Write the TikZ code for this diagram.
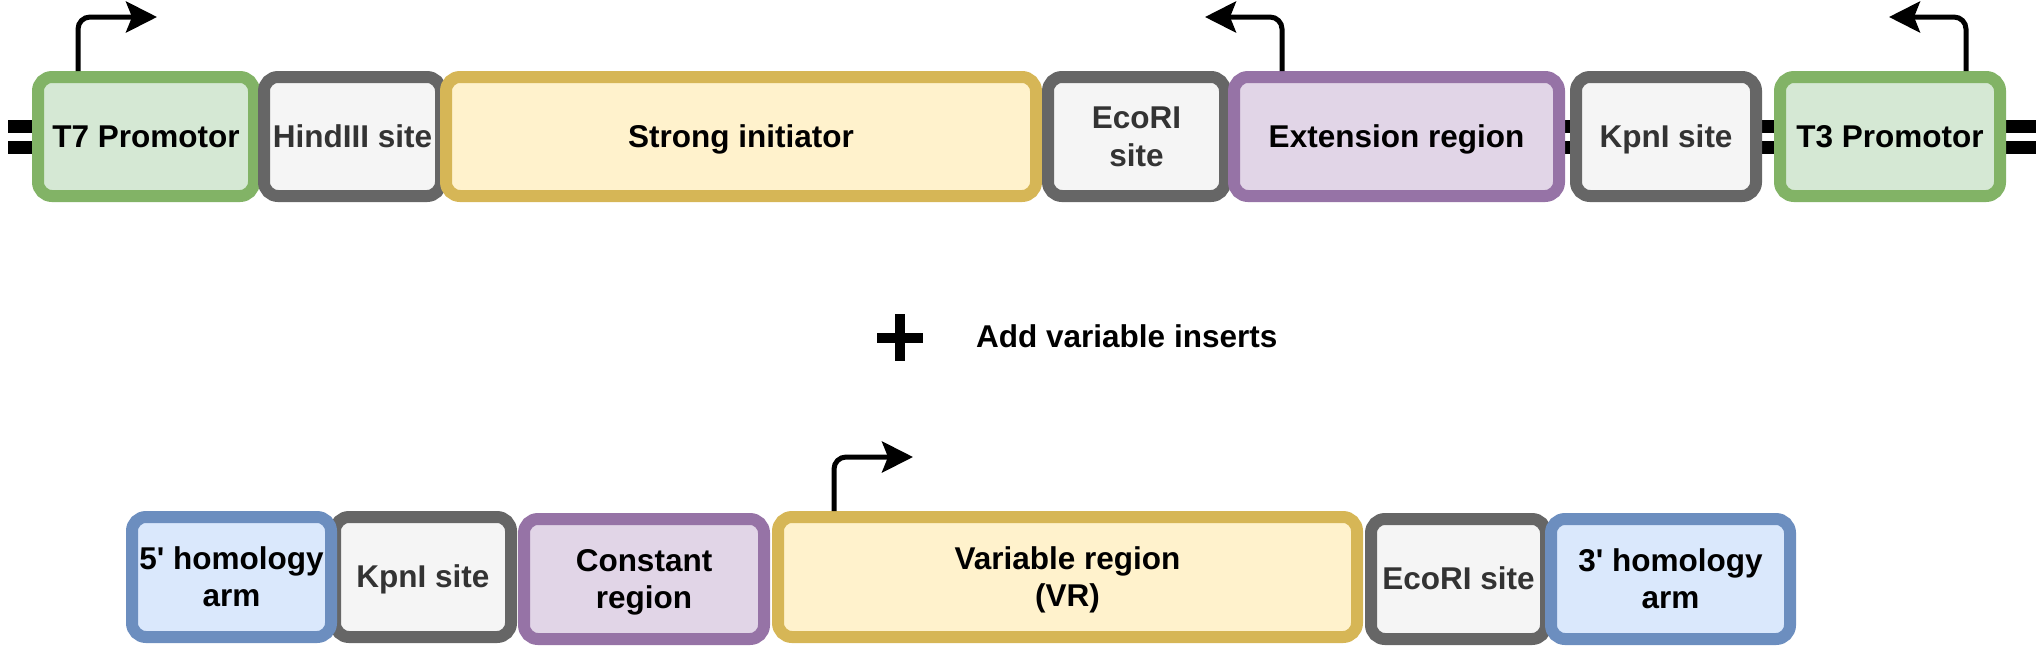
\documentclass[tikz,border=0pt]{standalone}
\usepackage{fontspec}
\setmainfont{Liberation Sans}[Ligatures=TeXOff]
\usetikzlibrary{arrows.meta,calc}
\definecolor{gFill}{HTML}{D5E8D4}
\definecolor{gLine}{HTML}{82B366}
\definecolor{kFill}{HTML}{F5F5F5}
\definecolor{kLine}{HTML}{666666}
\definecolor{kText}{HTML}{333333}
\definecolor{yFill}{HTML}{FFF2CC}
\definecolor{yLine}{HTML}{D6B656}
\definecolor{pFill}{HTML}{E1D5E7}
\definecolor{pLine}{HTML}{9673A6}
\definecolor{bFill}{HTML}{DAE8FC}
\definecolor{bLine}{HTML}{6C8EBF}
\newcommand\lstrut{\rule[-0.212em]{0pt}{1.117em}}
\begin{document}
\begin{tikzpicture}[x=1pt,y=-1pt,
  part/.style={draw, line width=12pt, rounded corners=14pt, inner sep=0pt, align=center,
    font=\fontsize{31.5}{37.5}\selectfont\bfseries},
  partG/.style={part, draw=gLine, fill=gFill},
  partK/.style={part, draw=kLine, fill=kFill, text=kText},
  partY/.style={part, draw=yLine, fill=yFill},
  partP/.style={part, draw=pLine, fill=pFill},
  partB/.style={part, draw=bLine, fill=bFill},
  prom/.style={line width=5pt, rounded corners=12pt,
    -{Stealth[length=31pt,width=31pt,inset=6pt]}},
  bar/.style={line width=13pt}
]
\useasboundingbox (0,0) rectangle (2042,646);
% backbone
\coordinate (bbLa) at (8,126);
\coordinate (bbRa) at (2036,126);
\coordinate (bbLb) at (8,147);
\coordinate (bbRb) at (2036,147);
\draw[bar] (bbLa) -- (bbRa);
\draw[bar] (bbLb) -- (bbRb);
% top row
\node[partG, minimum width=216pt, minimum height=119pt] (t7) at (146,136.5) {\lstrut T7 Promotor};
\node[partK, minimum width=177pt, minimum height=119pt] (hind) at (352.5,136.5) {\lstrut HindIII site};
\node[partY, minimum width=590pt, minimum height=119pt] (init) at (741,136.5) {\lstrut Strong initiator};
\node[partK, minimum width=177pt, minimum height=119pt] (eco) at (1136.5,136.5) {\lstrut EcoRI\\\lstrut site};
\node[partP, minimum width=325pt, minimum height=119pt] (ext) at (1396.5,136.5) {\lstrut Extension region};
\node[partK, minimum width=180pt, minimum height=119pt] (kpn) at (1666,136.5) {\lstrut KpnI site};
\node[partG, minimum width=220pt, minimum height=119pt] (t3) at (1890,136.5) {\lstrut T3 Promotor};
% promoter arrows
\coordinate (t7tip) at (157,17);
\coordinate (exttip) at (1205,17);
\coordinate (t3tip) at (1889,17);
\draw[prom] ([xshift=46pt]t7.north west) |- (t7tip);
\draw[prom] ([xshift=54pt]ext.north west) |- (exttip);
\draw[prom] ([xshift=-40pt]t3.north east) |- (t3tip);
% plus and label
\draw[line width=10pt] (877,338) -- (923,338);
\draw[line width=10pt] (899.5,314) -- (899.5,361);
\node[font=\fontsize{31.5}{37}\selectfont\bfseries, anchor=base west, inner sep=0pt] (add) at (976,347) {Add variable inserts};
% bottom row
\node[partK, minimum width=176pt, minimum height=120pt] (kpn2) at (423,577) {\lstrut KpnI site};
\node[partB, minimum width=199pt, minimum height=120pt] (h5) at (231.5,577) {\lstrut 5' homology\\\lstrut arm};
\node[partP, minimum width=240pt, minimum height=120pt] (con) at (644,579) {\lstrut Constant\\\lstrut region};
\node[partY, minimum width=579pt, minimum height=120pt] (vr) at (1067.5,577) {\lstrut Variable region\\\lstrut (VR)};
\node[partK, minimum width=175pt, minimum height=120pt] (eco2) at (1458.5,579) {\lstrut EcoRI site};
\node[partB, minimum width=239pt, minimum height=120pt] (h3) at (1670.5,579) {\lstrut 3' homology\\\lstrut arm};
\coordinate (vrtip) at (913,457);
\draw[prom] ([xshift=62pt]vr.north west) |- (vrtip);
\end{tikzpicture}
\end{document}
